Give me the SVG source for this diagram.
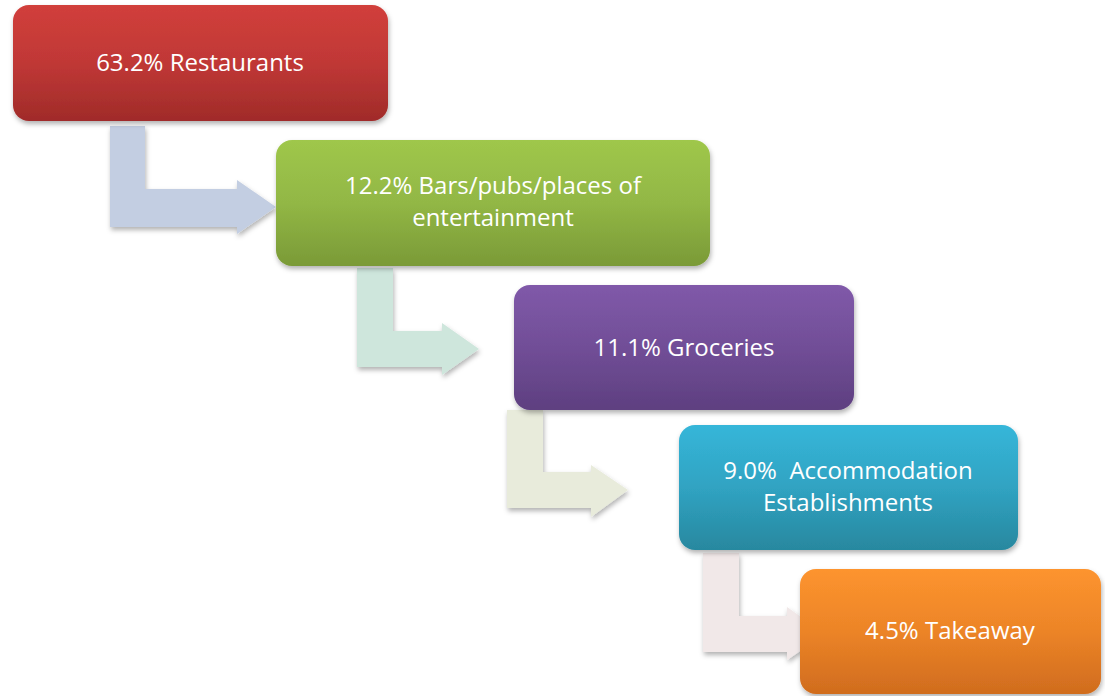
<svg xmlns="http://www.w3.org/2000/svg" width="1105" height="696" viewBox="0 0 1105 696">
<style>
.lbl{font-family:"Open Sans","Liberation Sans",Arial,sans-serif;font-size:24px;fill:#ffffff;text-anchor:middle}
.box{filter:url(#sh)}
.arr{filter:url(#sh)}
</style>
<defs>
<filter id="sh" x="-10%" y="-10%" width="130%" height="140%">
<feDropShadow dx="1" dy="3" stdDeviation="2.5" flood-color="#000" flood-opacity="0.3"/>
</filter>
<linearGradient id="g1" x1="0" y1="0" x2="0" y2="1"><stop offset="0" stop-color="#D13F3B"/><stop offset="0.5" stop-color="#C03836"/><stop offset="1" stop-color="#A02B29"/></linearGradient>
<linearGradient id="g2" x1="0" y1="0" x2="0" y2="1"><stop offset="0" stop-color="#9FC74B"/><stop offset="0.5" stop-color="#92B745"/><stop offset="1" stop-color="#7A9A37"/></linearGradient>
<linearGradient id="g3" x1="0" y1="0" x2="0" y2="1"><stop offset="0" stop-color="#8059A9"/><stop offset="0.5" stop-color="#714E97"/><stop offset="1" stop-color="#5E3F80"/></linearGradient>
<linearGradient id="g4" x1="0" y1="0" x2="0" y2="1"><stop offset="0" stop-color="#36B6D9"/><stop offset="0.5" stop-color="#30A3C2"/><stop offset="1" stop-color="#28889F"/></linearGradient>
<linearGradient id="g5" x1="0" y1="0" x2="0" y2="1"><stop offset="0" stop-color="#FD942F"/><stop offset="0.5" stop-color="#EC8427"/><stop offset="1" stop-color="#D06C1E"/></linearGradient>
</defs>
<g id="connectors">
<path class="arr" fill="#C3CEE2" d="M110,126 H145 V189 H237 V180 L276,207 L237,234 V227 H110 Z"/>
<path class="arr" fill="#CEE6DC" d="M357,268 H393 V331 H442 V323 L479,349 L442,375 V367 H357 Z"/>
<path class="arr" fill="#E8EBDB" d="M507,410 H543 V472 H591 V465 L628,490 L591,517 V508 H507 Z"/>
<path class="arr" fill="#F1E8E8" d="M703,553 H739 V616 H787 V607 L825,634 L787,660 V652 H703 Z"/>
</g>
<g id="n1">
<rect class="box" x="13" y="5" width="375" height="116" rx="16" fill="url(#g1)"/>
<text class="lbl" x="200" y="71">63.2% Restaurants</text>
</g>
<g id="n2">
<rect class="box" x="276" y="140" width="434" height="126" rx="16" fill="url(#g2)"/>
<text class="lbl" x="493" y="194">12.2% Bars/pubs/places of</text>
<text class="lbl" x="493" y="226">entertainment</text>
</g>
<g id="n3">
<rect class="box" x="514" y="285" width="340" height="125" rx="16" fill="url(#g3)"/>
<text class="lbl" x="684" y="356">11.1% Groceries</text>
</g>
<g id="n4">
<rect class="box" x="679" y="425" width="339" height="125" rx="16" fill="url(#g4)"/>
<text class="lbl" x="848" y="479" xml:space="preserve">9.0%  Accommodation</text>
<text class="lbl" x="848" y="511">Establishments</text>
</g>
<g id="n5">
<rect class="box" x="800" y="569" width="301" height="125" rx="16" fill="url(#g5)"/>
<text class="lbl" x="950" y="639">4.5% Takeaway</text>
</g>
</svg>
